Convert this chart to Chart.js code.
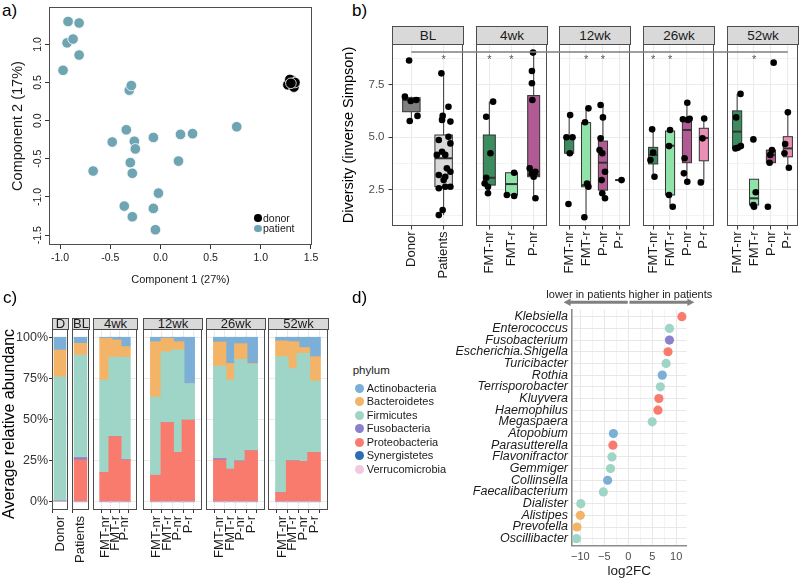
<!DOCTYPE html>
<html>
<head>
<meta charset="utf-8">
<script src="https://cdn.jsdelivr.net/npm/chart.js@4.4.1/dist/chart.umd.min.js"></script>
<style>
body { margin: 0; background: #fff; font-family: "Liberation Sans", Arial, sans-serif; }
#fig { position: relative; width: 800px; height: 580px; overflow: hidden; background: #fff; }
#fig canvas { position: absolute; }
.t { position: absolute; white-space: nowrap; line-height: 1; color: #000; }
.strip { position: absolute; box-sizing: border-box; background: #d9d9d9; border: 1px solid #4d4d4d; text-align: center; color: #1a1a1a; }
.dot { position: absolute; border-radius: 50%; }
</style>
</head>
<body>
<div id="fig"></div>
<script>
// ---- a) PCA ----
var pcaDonor = [[1.27, 0.47], [1.31, 0.53], [1.29, 0.54], [1.33, 0.44], [1.34, 0.50], [1.30, 0.49]];
var pcaPatient = [[-0.92, 1.30], [-0.81, 1.28], [-0.93, 1.02], [-0.87, 1.07], [-0.81, 0.86], [-0.97, 0.66],
    [-0.31, 0.40], [-0.29, 0.46], [-0.34, -0.12], [-0.48, -0.28], [-0.26, -0.27], [-0.25, -0.37],
    [-0.07, -0.22], [0.20, -0.18], [0.32, -0.17], [0.76, -0.08], [-0.30, -0.55], [-0.28, -0.69],
    [0.18, -0.53], [-0.67, -0.66], [-0.02, -0.95], [-0.36, -1.12], [-0.07, -1.15], [-0.28, -1.26], [-0.05, -1.43]];
var pcaXTicks = [-1, -0.5, 0, 0.5, 1, 1.5];
var pcaYTicks = [-1.5, -1, -0.5, 0, 0.5, 1];

// ---- b) diversity ----
var divFacets = ['BL', '4wk', '12wk', '26wk', '52wk'];
var divGroups = [['Donor', 'Patients'], ['FMT-nr', 'FMT-r', 'P-nr'], ['FMT-nr', 'FMT-r', 'P-nr', 'P-r'],
    ['FMT-nr', 'FMT-r', 'P-nr', 'P-r'], ['FMT-nr', 'FMT-r', 'P-nr', 'P-r']];
// lower whisker, q1, median, q3, upper whisker
var divBoxes = [
    [[5.78, 6.22, 6.78, 6.89, 6.94], [1.29, 2.64, 4.0, 5.11, 8.05]],
    [[2.33, 2.72, 3.07, 5.11, 6.7], [2.2, 2.25, 2.77, 3.31, 3.31], [2.09, 3.12, 3.2, 6.99, 9.04]],
    [[4.24, 4.24, 5.0, 5.03, 6.06], [1.19, 2.64, 2.72, 5.7, 6.38], [2.09, 2.48, 3.79, 4.82, 6.54], [2.96, 2.96, 2.96, 2.96, 2.96]],
    [[3.12, 3.73, 4.16, 4.52, 5.38], [1.69, 2.25, 4.6, 5.3, 5.35], [2.88, 3.79, 5.35, 5.88, 6.65], [2.85, 3.88, 4.97, 5.43, 5.9]],
    [[4.47, 4.47, 5.27, 6.26, 7.07], [1.77, 1.77, 2.09, 3.0, 3.0], [3.79, 3.79, 4.16, 4.39, 4.39], [3.55, 4.07, 4.47, 5.03, 6.19]]
];
// [jitter, value] per sample
var divPoints = [
    [[[-0.07, 8.66], [-0.2, 6.94], [-0.02, 6.73], [0.15, 6.78], [-0.05, 5.78], [0.19, 6.02]],
     [[-0.07, 8.05], [0.15, 6.46], [-0.03, 6.02], [0.21, 5.75], [-0.05, 5.83], [0.15, 5.03], [-0.15, 4.87],
      [0.21, 4.71], [-0.05, 4.31], [0.05, 4.16], [-0.21, 4.16], [0.1, 3.52], [-0.15, 3.2], [0.21, 3.36],
      [0.05, 3.12], [0, 2.96], [-0.15, 2.57], [0.05, 2.64], [0.21, 2.64], [-0.03, 1.53], [-0.15, 1.29]]],
    [[[0.17, 6.7], [-0.14, 5.98], [0.05, 4.24], [-0.14, 3.07], [-0.21, 2.8], [-0.06, 2.64], [-0.06, 2.33]],
     [[0.12, 3.31], [-0.21, 2.25], [0.12, 2.2]],
     [[-0.03, 9.04], [-0.08, 8.16], [-0.08, 7.58], [-0.06, 6.78], [-0.18, 3.52], [0.08, 3.36], [-0.08, 3.28], [0, 3.12], [0.08, 2.09]]],
    [[[0.06, 6.06], [-0.16, 5.0], [0.2, 5.0], [0.04, 4.24], [-0.04, 1.82]],
     [[0.14, 6.38], [-0.06, 5.72], [0.06, 2.8], [0.14, 2.64], [-0.1, 1.19]],
     [[-0.14, 6.54], [0, 5.95], [-0.14, 4.95], [-0.2, 4.39], [-0.04, 4.24], [0.12, 3.36], [-0.08, 2.96], [-0.04, 2.33], [0.12, 2.09]],
     [[0.1, 2.96]]],
    [[[-0.06, 5.38], [0, 4.27], [-0.16, 3.92], [0.08, 3.12]],
     [[0, 5.35], [-0.06, 4.58], [-0.06, 2.25], [0.16, 1.69]],
     [[0.02, 6.65], [-0.24, 5.86], [0.16, 5.88], [0.06, 5.83], [-0.14, 4.0], [-0.18, 3.28], [0.02, 2.88]],
     [[0.02, 5.9], [-0.08, 4.95], [-0.18, 2.85]]],
    [[[0.2, 7.07], [-0.06, 5.95], [-0.1, 4.47], [0.22, 4.58], [0.04, 4.5]],
     [[-0.04, 4.9], [0.1, 2.38], [-0.04, 1.77], [0, 1.69]],
     [[0.16, 8.56], [0.06, 4.39], [-0.04, 4.16], [-0.08, 3.79], [-0.18, 1.69]],
     [[0, 6.19], [-0.2, 4.24], [-0.16, 4.68], [0.06, 3.55]]]
];
var divStars = [[0, 1], [1, 1, 0], [0, 1, 1, 0], [1, 1, 0, 0], [0, 1, 0, 0]];
var divMajor = [2.5, 5, 7.5];
var divYTicks = [1.25, 2.5, 3.75, 5, 6.25, 7.5, 8.75];
var groupColors = {'Donor': '#808080', 'Patients': '#d9d9d9', 'FMT-nr': '#3d8c5f', 'FMT-r': '#8fe2a8', 'P-nr': '#b25a93', 'P-r': '#e990b5'};

// ---- c) composition ----
var abFacets = ['D', 'BL', '4wk', '12wk', '26wk', '52wk'];
var abGroups = [['Donor'], ['Patients'], ['FMT-nr', 'FMT-r', 'P-nr'], ['FMT-nr', 'FMT-r', 'P-nr', 'P-r'],
    ['FMT-nr', 'FMT-r', 'P-nr', 'P-r'], ['FMT-nr', 'FMT-r', 'P-nr', 'P-r']];
var phyla = ['Actinobacteria', 'Bacteroidetes', 'Firmicutes', 'Fusobacteria', 'Proteobacteria', 'Synergistetes', 'Verrucomicrobia'];
var phylaColors = ['#7cafd8', '#f3b468', '#9ed5c7', '#8b80cc', '#f97b6d', '#2f6db3', '#f1c8df'];
var actinobacteria  = [7.8, 3.7, 0.6, 1.6, 5.7, 2.7, 0.6, 2.7, 28.2, 2.9, 15.9, 3.9, 16.0, 2.2, 2.7, 6.3, 11.8];
var bacteroidetes   = [16.3, 7.1, 25.5, 10.4, 6.5, 33.6, 8.2, 4.9, 0.0, 14.7, 10.2, 9.6, 0.4, 9.6, 16.3, 3.5, 14.9];
var firmicutes      = [75.4, 62.3, 56.1, 48.4, 62.2, 47.6, 43.0, 62.4, 22.2, 56.1, 54.1, 61.6, 52.6, 82.7, 56.1, 65.7, 43.3];
var fusobacteria    = [0, 1.4, 0, 0, 0.3, 0, 0, 0, 0, 0.8, 0, 0.4, 0, 0, 0, 0, 0];
var proteobacteria  = [0, 25.5, 17.8, 39.6, 25.3, 16.1, 48.2, 30.0, 49.6, 25.5, 19.8, 24.5, 31.0, 5.5, 24.9, 24.5, 30.0];
var synergistetes   = [0, 0, 0, 0, 0, 0, 0, 0, 0, 0, 0, 0, 0, 0, 0, 0, 0];
var verrucomicrobia = [0.5, 0, 0, 0, 0, 0, 0, 0, 0, 0, 0, 0, 0, 0, 0, 0, 0];
var abValues = [actinobacteria, bacteroidetes, firmicutes, fusobacteria, proteobacteria, synergistetes, verrucomicrobia];
var abYTicks = [0, 25, 50, 75, 100];

// ---- d) differential genera ----
var genera = ['Klebsiella', 'Enterococcus', 'Fusobacterium', 'Escherichia.Shigella', 'Turicibacter', 'Rothia',
    'Terrisporobacter', 'Kluyvera', 'Haemophilus', 'Megaspaera', 'Atopobium', 'Parasutterella', 'Flavonifractor',
    'Gemmiger', 'Collinsella', 'Faecalibacterium', 'Dialister', 'Alistipes', 'Prevotella', 'Oscillibacter'];
var log2fc = [11.2, 8.6, 8.6, 8.3, 7.9, 7.1, 6.7, 6.4, 6.2, 5.0, -3.1, -3.2, -3.4, -3.7, -4.3, -5.2, -9.9, -10.0, -10.7, -10.8];
var generaPhylum = [4, 2, 3, 4, 2, 0, 2, 4, 4, 2, 0, 4, 2, 2, 0, 2, 2, 1, 1, 2];
var fcTicks = [-10, -7.5, -5, -2.5, 0, 2.5, 5, 7.5, 10];

var FONT = '"Liberation Sans", Arial, sans-serif';
Chart.defaults.font.family = FONT;
Chart.defaults.color = '#333';

var fig = document.getElementById('fig');

function mk(left, top, w, h) {
    var c = document.createElement('canvas');
    c.width = w; c.height = h;
    c.style.left = left + 'px'; c.style.top = top + 'px';
    c.style.width = w + 'px'; c.style.height = h + 'px';
    fig.appendChild(c);
    return c;
}
function txt(s, left, top, size, extra) {
    var d = document.createElement('div');
    d.className = 't';
    d.textContent = s;
    d.style.left = left + 'px'; d.style.top = top + 'px'; d.style.fontSize = size + 'px';
    if (extra) Object.assign(d.style, extra);
    fig.appendChild(d);
    return d;
}
function strip(s, left, top, w, h, size) {
    var d = document.createElement('div');
    d.className = 'strip';
    d.textContent = s;
    d.style.left = left + 'px'; d.style.top = top + 'px';
    d.style.width = (w + 1) + 'px'; d.style.height = (h + 1) + 'px';
    d.style.fontSize = size + 'px'; d.style.lineHeight = (h - 1) + 'px';
    fig.appendChild(d);
}
function dot(cx, cy, r, col) {
    var d = document.createElement('div');
    d.className = 'dot';
    d.style.left = (cx - r) + 'px'; d.style.top = (cy - r) + 'px';
    d.style.width = 2 * r + 'px'; d.style.height = 2 * r + 'px';
    d.style.background = col;
    fig.appendChild(d);
}
function base(plug, padding) {
    return {
        responsive: false, animation: false, events: [], devicePixelRatio: 1,
        layout: {padding: padding, autoPadding: false},
        plugins: Object.assign({legend: {display: false}, tooltip: {enabled: false}}, plug)
    };
}
function setTicks(vals) {
    return function (s) { s.ticks = vals.map(function (v) { return {value: v}; }); };
}
// fixed axis size, no extra margins for label overhang
function fixW(w) {
    return function (s) { s.width = w; s.paddingTop = s.paddingBottom = s.paddingLeft = s.paddingRight = 0; };
}
function fixH(h) {
    return function (s) { s.height = h; s.paddingTop = s.paddingBottom = s.paddingLeft = s.paddingRight = 0; };
}

// frame + rotated category labels under a facet
var facetDeco = {
    id: 'facetDeco',
    afterDraw: function (chart, args, o) {
        var ctx = chart.ctx, a = chart.chartArea, x = chart.scales.x;
        ctx.save();
        ctx.strokeStyle = '#4d4d4d';
        ctx.lineWidth = 1;
        ctx.strokeRect(Math.round(a.left) + 0.5, Math.round(a.top) + 0.5, Math.round(a.right - a.left) - 1, Math.round(a.bottom - a.top) - 1);
        ctx.fillStyle = '#1a1a1a';
        ctx.font = o.size + 'px ' + FONT;
        ctx.textAlign = 'right';
        ctx.textBaseline = 'middle';
        (o.cats || []).forEach(function (c, i) {
            ctx.save();
            ctx.translate(x.getPixelForValue(i + 1), a.bottom + o.gap);
            ctx.rotate(-Math.PI / 2);
            ctx.fillText(c, 0, 0);
            ctx.restore();
        });
        ctx.restore();
    }
};

// ---------------- a) ----------------
txt('a)', 2, 1.5, 17);
var pcaY = {
    id: 'pcaY',
    afterDraw: function (chart) {
        var ctx = chart.ctx, y = chart.scales.y, a = chart.chartArea;
        ctx.save();
        ctx.font = '10.5px ' + FONT;
        ctx.fillStyle = '#1a1a1a';
        ctx.textAlign = 'center';
        ctx.textBaseline = 'middle';
        pcaYTicks.forEach(function (v) {
            ctx.save();
            ctx.translate(a.left - 11, y.getPixelForValue(v));
            ctx.rotate(-Math.PI / 2);
            ctx.fillText(v.toFixed(1), 0, 0);
            ctx.restore();
        });
        ctx.restore();
    }
};
new Chart(mk(0, 0, 330, 290), {
    type: 'scatter',
    data: {
        datasets: [
            {data: pcaPatient.map(function (p) { return {x: p[0], y: p[1]}; }), pointRadius: 5.3,
             backgroundColor: '#6fa5b3', borderColor: '#fff', borderWidth: 0.8},
            {data: pcaDonor.map(function (p) { return {x: p[0], y: p[1]}; }), pointRadius: 5.3,
             backgroundColor: '#000', borderColor: '#fff', borderWidth: 0.8}
        ]
    },
    options: Object.assign(base({facetDeco: {cats: [], gap: 0, size: 10}}, {top: 7, right: 18}), {
        scales: {
            x: {type: 'linear', min: -1.11, max: 1.51, afterBuildTicks: setTicks(pcaXTicks),
                afterFit: fixH(45),
                grid: {drawOnChartArea: false, tickLength: 4, tickColor: '#333', color: '#333'},
                border: {display: false},
                ticks: {padding: 2.7, color: '#1a1a1a', font: {size: 10.5}, maxRotation: 0, autoSkip: false,
                        callback: function (v) { return v.toFixed(1); }},
                title: {display: true, text: 'Component 1 (27%)', color: '#1a1a1a', font: {size: 11}, padding: {bottom: 3.4}}},
            y: {type: 'linear', min: -1.63, max: 1.49, afterBuildTicks: setTicks(pcaYTicks),
                afterFit: fixW(49),
                grid: {drawOnChartArea: false, tickLength: 4, tickColor: '#333', color: '#333'},
                border: {display: false},
                ticks: {display: false},
                title: {display: true, text: 'Component 2 (17%)', color: '#1a1a1a', font: {size: 14.5}, padding: {top: 9.3}}}
        }
    }),
    plugins: [facetDeco, pcaY]
});
dot(258, 218, 3.8, '#000');
dot(258, 228.5, 3.8, '#6fa5b3');
txt('donor', 263, 212.5, 10.5, {color: '#1a1a1a'});
txt('patient', 263, 223, 10.5, {color: '#1a1a1a'});

// ---------------- b) ----------------
txt('b)', 352, 1.5, 17);
var divBox = {
    id: 'divBox',
    beforeDatasetsDraw: function (chart, args, o) {
        var ctx = chart.ctx, x = chart.scales.x, y = chart.scales.y;
        var cats = divGroups[o.fi];
        ctx.save();
        ctx.strokeStyle = '#333';
        divBoxes[o.fi].forEach(function (b, i) {
            var cx = x.getPixelForValue(i + 1);
            var x0 = x.getPixelForValue(i + 1 - 0.27), x1 = x.getPixelForValue(i + 1 + 0.27);
            var p = b.map(function (v) { return y.getPixelForValue(v); });
            ctx.lineWidth = 1;
            ctx.beginPath();
            ctx.moveTo(cx, p[0]); ctx.lineTo(cx, p[1]);
            ctx.moveTo(cx, p[3]); ctx.lineTo(cx, p[4]);
            ctx.stroke();
            ctx.fillStyle = groupColors[cats[i]];
            ctx.fillRect(x0, p[3], x1 - x0, p[1] - p[3]);
            ctx.strokeRect(x0, p[3], x1 - x0, p[1] - p[3]);
            ctx.lineWidth = 2;
            ctx.beginPath();
            ctx.moveTo(x0, p[2]); ctx.lineTo(x1, p[2]);
            ctx.stroke();
        });
        ctx.restore();
    },
    afterDraw: function (chart, args, o) {
        var ctx = chart.ctx, x = chart.scales.x, y = chart.scales.y;
        var n = divGroups[o.fi].length;
        ctx.save();
        ctx.font = '11px ' + FONT;
        ctx.fillStyle = '#555';
        ctx.textAlign = 'center';
        ctx.textBaseline = 'middle';
        divStars[o.fi].forEach(function (s, i) {
            if (s) ctx.fillText('*', x.getPixelForValue(i + 1), y.getPixelForValue(8.8) + 2.5);
        });
        var by = Math.round(y.getPixelForValue(9.07));
        var bx0 = o.fi === 0 ? x.getPixelForValue(1) : 0;
        var bx1 = o.fi === divFacets.length - 1 ? x.getPixelForValue(n) : chart.width;
        ctx.strokeStyle = '#7f7f7f';
        ctx.lineWidth = 1.6;
        ctx.beginPath();
        ctx.moveTo(bx0, by); ctx.lineTo(bx1, by);
        ctx.stroke();
        ctx.restore();
    }
};
var divLayout = [[340, 52, 71, 13], [476, 0, 71, 12], [559, 0, 71, 13], [643, 0, 71, 13], [727, 0, 71, 2]];
divFacets.forEach(function (f, fi) {
    var L = divLayout[fi], cats = divGroups[fi], first = fi === 0;
    var pts = [];
    divPoints[fi].forEach(function (g, i) {
        g.forEach(function (p) { pts.push({x: i + 1 + p[0], y: p[1]}); });
    });
    strip(f, L[0] + L[1], 26, L[2], 18, 13.5);
    var major = function (c) { return c.tick && divMajor.indexOf(c.tick.value) >= 0; };
    new Chart(mk(L[0], 44, L[1] + L[2] + L[3], 246), {
        type: 'scatter',
        data: {datasets: [{data: pts, pointRadius: 3.3, backgroundColor: '#000', borderWidth: 0}]},
        options: Object.assign(base({facetDeco: {cats: cats, gap: 5.5, size: 13}, divBox: {fi: fi}}, {right: L[3]}), {
            scales: {
                x: {type: 'linear', min: 0.4, max: cats.length + 0.6,
                    afterBuildTicks: setTicks(cats.map(function (c, i) { return i + 1; })),
                    afterFit: fixH(64),
                    grid: {color: '#ebebeb', lineWidth: 1.1, tickLength: 3.5, tickColor: '#333', tickWidth: 1},
                    border: {display: false},
                    ticks: {display: false}},
                y: {type: 'linear', min: 0.77, max: 9.45,
                    afterBuildTicks: setTicks(divYTicks),
                    afterFit: fixW(L[1]),
                    grid: {color: '#ebebeb', lineWidth: function (c) { return major(c) ? 1.1 : 0.6; },
                           drawTicks: first, tickLength: 3.5, tickWidth: 1,
                           tickColor: function (c) { return major(c) ? '#333' : 'rgba(0,0,0,0)'; }},
                    border: {display: false},
                    ticks: {display: first, padding: 4, color: '#4d4d4d', font: {size: 11.5}, autoSkip: false,
                            callback: function (v) { return divMajor.indexOf(v) >= 0 ? v.toFixed(1) : ''; }},
                    title: {display: first, text: 'Diversity (inverse Simpson)', color: '#000', font: {size: 14.5}, padding: {top: 0.3}}}
            }
        }),
        plugins: [facetDeco, divBox]
    });
});

// ---------------- c) ----------------
txt('c)', 3, 288.5, 17);
var abLayout = [[0, 52, 16], [72, 0, 17], [93, 0, 44], [143, 0, 59], [206, 0, 59], [268, 0, 60]];
var abOffset = 0;
abFacets.forEach(function (f, fi) {
    var L = abLayout[fi], cats = abGroups[fi], n = cats.length, off = abOffset, first = fi === 0;
    abOffset += n;
    var thick = 0.9 * L[2] / (n + 0.2);
    var datasets = [];
    for (var k = phyla.length - 1; k >= 0; k--) {
        datasets.push({
            label: phyla[k],
            data: cats.map(function (c, i) { return {x: i + 1, y: abValues[k][off + i]}; }),
            backgroundColor: phylaColors[k], borderWidth: 0, barThickness: thick
        });
    }
    strip(f, L[0] + L[1], 318, L[2], 11, 13);
    new Chart(mk(L[0], 329, L[1] + L[2], 246), {
        type: 'bar',
        data: {datasets: datasets},
        options: Object.assign(base({facetDeco: {cats: cats, gap: 6, size: 13}}, {}), {
            scales: {
                x: {type: 'linear', stacked: true, min: 0.4, max: n + 0.6,
                    afterBuildTicks: setTicks(cats.map(function (c, i) { return i + 1; })),
                    afterFit: fixH(65),
                    grid: {color: '#ebebeb', lineWidth: 1, tickLength: 3, tickColor: '#333', tickWidth: 1},
                    border: {display: false},
                    ticks: {display: false}},
                y: {type: 'linear', stacked: true, min: -5, max: 105,
                    afterBuildTicks: setTicks(abYTicks),
                    afterFit: fixW(L[1]),
                    grid: {color: '#ebebeb', lineWidth: 1, drawTicks: first, tickLength: 3, tickColor: '#333', tickWidth: 1},
                    border: {display: false},
                    ticks: {display: first, padding: 1, color: '#333', font: {size: 12.5}, autoSkip: false,
                            callback: function (v) { return v + '%'; }},
                    title: {display: first, text: 'Average relative abundance', color: '#000', font: {size: 16}, padding: {top: 0.4}}}
            }
        }),
        plugins: [facetDeco]
    });
});
txt('phylum', 352.7, 364.5, 11.5, {color: '#1a1a1a'});
phyla.forEach(function (p, i) {
    var cy = 388.3 + i * 13.5;
    dot(359, cy, 4.5, phylaColors[i]);
    txt(p, 366.7, cy - 5.8, 11, {color: '#1a1a1a'});
});

// ---------------- d) ----------------
txt('d)', 352, 288.5, 17);
var fcArrows = {
    id: 'fcArrows',
    afterDraw: function (chart) {
        var ctx = chart.ctx, x = chart.scales.x, a = chart.chartArea;
        var yy = a.top - 7.5;
        function arrow(from, to) {
            var x0 = x.getPixelForValue(from), x1 = x.getPixelForValue(to), dir = x1 > x0 ? 1 : -1;
            ctx.beginPath();
            ctx.moveTo(x0, yy); ctx.lineTo(x1 - dir * 5, yy);
            ctx.stroke();
            ctx.beginPath();
            ctx.moveTo(x1, yy); ctx.lineTo(x1 - dir * 7, yy - 3.8); ctx.lineTo(x1 - dir * 7, yy + 3.8);
            ctx.closePath();
            ctx.fill();
        }
        ctx.save();
        ctx.strokeStyle = '#808080';
        ctx.fillStyle = '#808080';
        ctx.lineWidth = 3;
        arrow(-0.1, -13.5);
        arrow(0.25, 13.8);
        ctx.font = '11px ' + FONT;
        ctx.fillStyle = '#1a1a1a';
        ctx.textAlign = 'center';
        ctx.textBaseline = 'middle';
        ctx.fillText('lower in patients', x.getPixelForValue(-8.8), a.top - 14.5);
        ctx.fillText('higher in patients', x.getPixelForValue(8.8), a.top - 14.5);
        ctx.restore();
    }
};
new Chart(mk(445, 290, 355, 290), {
    type: 'scatter',
    data: {
        datasets: [{
            data: log2fc.map(function (v, i) { return {x: v, y: i + 1}; }),
            backgroundColor: generaPhylum.map(function (k) { return phylaColors[k]; }),
            pointRadius: 4.6, borderWidth: 0
        }]
    },
    options: Object.assign(base({}, {top: 19.7, right: 113.3}), {
        scales: {
            x: {type: 'linear', min: -11.8, max: 12.2, afterBuildTicks: setTicks(fcTicks),
                afterFit: fixH(34.3),
                grid: {color: '#e8e8e8', lineWidth: function (c) { return c.tick && c.tick.value % 5 === 0 ? 1 : 0.5; }, drawTicks: false},
                border: {display: true, color: '#8c8c8c', width: 1.6},
                ticks: {padding: 4.4, color: '#4d4d4d', font: {size: 11}, maxRotation: 0, minRotation: 0, autoSkip: false,
                        callback: function (v) { return v % 5 !== 0 ? '' : (v < 0 ? '\u2212' + Math.abs(v) : String(v)); }},
                title: {display: true, text: 'log2FC', color: '#1a1a1a', font: {size: 13.5}, padding: {bottom: 0.2}}},
            y: {type: 'linear', reverse: true, min: 0.4, max: genera.length + 0.6,
                afterBuildTicks: setTicks(genera.map(function (g, i) { return i + 1; })),
                afterFit: fixW(126.7),
                grid: {color: '#e8e8e8', lineWidth: 1, drawTicks: false},
                border: {display: true, color: '#8c8c8c', width: 1.6},
                ticks: {padding: 3.7, color: '#1a1a1a', font: {size: 12.5, style: 'italic'}, autoSkip: false,
                        callback: function (v) { return genera[v - 1]; }}}
        }
    }),
    plugins: [fcArrows]
});
</script>
</body>
</html>
